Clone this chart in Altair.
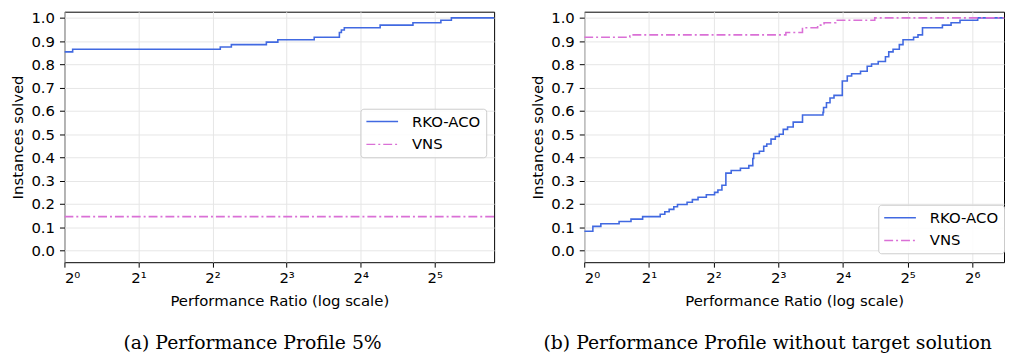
import altair as alt
import pandas as pd

SOLVERS = ["RKO-ACO", "VNS"]
COLORS = ["#4169e1", "#da70d6"]
DASHES = [[1, 0], [9, 3, 2, 3]]

# ---- Panel (a): Performance Profile 5% ----
a_rko_x = [1.0, 1.08, 4.30, 4.77, 6.62, 7.37, 10.36, 13.11, 13.36, 13.73, 19.2, 26.1, 33.9, 37.4, 56.0]
a_rko_y = [0.854, 0.865, 0.875, 0.885, 0.896, 0.906, 0.917, 0.9375, 0.948, 0.958, 0.969, 0.979, 0.990, 1.0, 1.0]
a_vns_x = [1.0, 56.0]
a_vns_y = [0.146, 0.146]

# ---- Panel (b): Performance Profile without target solution ----
b_rko_x = [1.0, 1.097, 1.195, 1.453, 1.651, 1.870, 2.258, 2.372, 2.485, 2.612, 2.717,
           3.011, 3.187, 3.387, 3.701, 4.042, 4.190, 4.374, 4.563, 4.830, 5.333, 5.836,
           6.089, 6.147, 6.534, 6.845, 7.072, 7.403, 7.750, 8.083, 8.438, 8.839, 9.389,
           10.375, 12.92, 13.0, 13.41, 13.93, 14.54, 15.89, 16.76, 17.56, 19.32, 20.75,
           21.74, 23.35, 25.23, 26.14, 27.38, 29.28, 30.46, 34.11, 35.76, 37.53, 46.46,
           50.98, 56.1, 67.8, 100.0]
b_rko_y = [0.083, 0.104, 0.115, 0.125, 0.135, 0.146, 0.156, 0.167, 0.177, 0.188, 0.198,
           0.208, 0.219, 0.229, 0.240, 0.250, 0.260, 0.281, 0.333, 0.344, 0.354, 0.365,
           0.396, 0.417, 0.427, 0.448, 0.458, 0.479, 0.490, 0.500, 0.521, 0.531, 0.552,
           0.583, 0.594, 0.615, 0.635, 0.656, 0.667, 0.729, 0.750, 0.760, 0.771, 0.792,
           0.802, 0.8125, 0.833, 0.854, 0.865, 0.885, 0.906, 0.917, 0.927, 0.958, 0.969,
           0.979, 0.990, 1.0, 1.0]
b_vns_x = [1.0, 1.63, 8.68, 10.37, 12.2, 13.07, 14.8, 22.5, 100.0]
b_vns_y = [0.917, 0.927, 0.9375, 0.958, 0.969, 0.979, 0.990, 1.0, 1.0]

x_ticks_a = [1, 2, 4, 8, 16, 32]
x_ticks_b = [1, 2, 4, 8, 16, 32, 64]
y_ticks = [0.0, 0.1, 0.2, 0.3, 0.4, 0.5, 0.6, 0.7, 0.8, 0.9, 1.0]

captions = ["(a) Performance Profile 5%", "(b) Performance Profile without target solution"]


def frame(series):
    parts = [pd.DataFrame({"ratio": xs, "solved": ys, "solver": name}) for name, xs, ys in series]
    return pd.concat(parts, ignore_index=True)


df_a = frame([("RKO-ACO", a_rko_x, a_rko_y), ("VNS", a_vns_x, a_vns_y)])
df_b = frame([("RKO-ACO", b_rko_x, b_rko_y), ("VNS", b_vns_x, b_vns_y)])

SUP = "'2' + ['\u2070','\u00b9','\u00b2','\u00b3','\u2074','\u2075','\u2076'][round(log(datum.value)/log(2))]"


def panel(df, xmax, xticks, width, legend_x, legend_y, caption):
    legend = alt.Legend(
        orient="none", legendX=legend_x, legendY=legend_y, title=None,
        symbolType="stroke", symbolSize=1024, symbolStrokeWidth=1.5,
        clipHeight=16, rowPadding=7, labelOffset=13, labelFontSize=15,
        labelFont="DejaVu Sans", labelColor="black", padding=5,
        fillColor="rgba(255,255,255,0.85)", strokeColor="#cccccc", cornerRadius=3,
    )
    return alt.Chart(
        df,
        title=alt.Title(caption, orient="bottom", anchor="middle", frame="bounds",
                        font="DejaVu Serif", fontSize=19, fontWeight="normal",
                        color="black", offset=26),
    ).mark_line(interpolate="step-after", strokeWidth=1.6, clip=True).encode(
        x=alt.X("ratio:Q",
                scale=alt.Scale(type="log", base=2, domain=[1, xmax], nice=False),
                axis=alt.Axis(values=xticks, labelExpr=SUP, title="Performance Ratio (log scale)")),
        y=alt.Y("solved:Q",
                scale=alt.Scale(domain=[-0.05, 1.0266], nice=False, zero=False),
                axis=alt.Axis(values=y_ticks, format=".1f", title="Instances solved")),
        color=alt.Color("solver:N", scale=alt.Scale(domain=SOLVERS, range=COLORS), legend=legend),
        strokeDash=alt.StrokeDash("solver:N", scale=alt.Scale(domain=SOLVERS, range=DASHES), legend=legend),
    ).properties(width=width, height=253)


pa = panel(df_a, 55.8, x_ticks_a, 434, 299, 98, captions[0])
pb = panel(df_b, 89.9, x_ticks_b, 424, 297, 195, captions[1])

chart = (
    alt.hconcat(pa, pb, spacing=35)
    .resolve_scale(color="independent", strokeDash="independent")
    .resolve_legend(color="independent", strokeDash="independent")
    .properties(padding={"left": 2, "top": 0, "right": 0, "bottom": 0})
    .configure_view(stroke="black", strokeWidth=1)
    .configure_axis(domain=False, grid=True, gridColor="#e6e6e6", gridWidth=1,
                    tickColor="black", tickSize=5, tickWidth=1,
                    labelFont="DejaVu Sans", labelFontSize=15, labelColor="black",
                    titleFont="DejaVu Sans", titleFontSize=15, titleFontWeight="normal",
                    titleColor="black")
    .configure_axisX(labelPadding=4, titlePadding=8)
    .configure_axisY(labelPadding=5, titlePadding=5)
)

chart.save("out.html", embed_options={"renderer": "svg", "actions": False})
